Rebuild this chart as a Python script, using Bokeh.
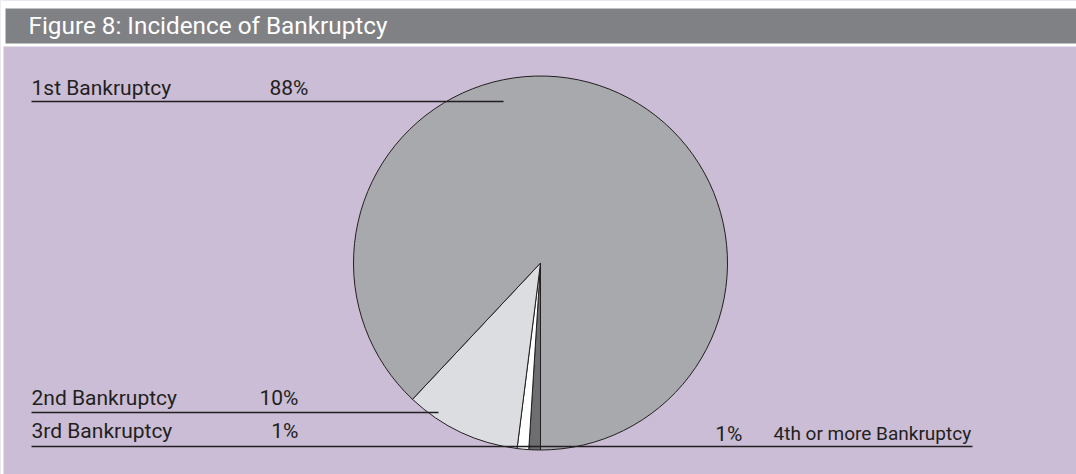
import math
from bokeh.plotting import figure
from bokeh.models import Range1d, ColumnDataSource
from bokeh.core.properties import value
from bokeh.embed import file_html
from bokeh.resources import INLINE

# ---- data ----
title = "Figure 8: Incidence of Bankruptcy"
categories = ["1st Bankruptcy", "2nd Bankruptcy", "3rd Bankruptcy", "4th or more Bankruptcy"]
shares = [88, 10, 1, 1]
colors = ["#a7a9ac", "#dcdde0", "#ffffff", "#6d6e71"]

W, H = 1076, 474
TSHIFT = 8  # compensation for baseline rendering


def sx(x):
    return x


def sy(y):
    return H - y


def ty(y):
    return H - (y - TSHIFT)


p = figure(width=W, height=H, output_backend="svg", toolbar_location=None,
           x_range=Range1d(0, W), y_range=Range1d(0, H), min_border=0)
p.axis.visible = False
p.grid.visible = False
p.outline_line_color = None
p.background_fill_color = "#cbbdd6"
p.border_fill_color = "#ffffff"

# white margins top/left, header bar
p.quad(left=[0], right=[W], top=[sy(0)], bottom=[sy(46)], fill_color="#ffffff", line_color=None)
p.quad(left=[0], right=[sx(3)], top=[sy(0)], bottom=[0], fill_color="#ffffff", line_color=None)
p.quad(left=[sx(5)], right=[W], top=[sy(8)], bottom=[sy(43)], fill_color="#808184", line_color=None)
p.text(x=[sx(28)], y=[ty(33)], text=[title], text_color="#ffffff",
       text_font=value("Roboto"), text_font_size="24.3px", text_baseline="alphabetic")

# pie: start at 6 o'clock, clockwise on screen: 4th, 3rd, 2nd, 1st
cx, cy, r = sx(540), sy(262.5), 187
order = [3, 2, 1, 0]
starts, ends, cols = [], [], []
ang = -math.pi / 2
for i in order:
    nxt = ang - shares[i] / sum(shares) * 2 * math.pi
    starts.append(nxt)
    ends.append(ang)
    cols.append(colors[i])
    ang = nxt
src = ColumnDataSource(dict(x=[cx] * 4, y=[cy] * 4, s=starts, e=ends, c=cols))
p.wedge(x="x", y="y", radius=r, start_angle="s", end_angle="e", fill_color="c",
        line_color="#231f20", line_width=1, source=src)

# leader lines and labels
ink = "#231f20"
lines = [((31, 503), 101), ((31, 438), 412), ((31, 530), 446), ((528, 972), 446)]
for (x0, x1), y in lines:
    p.line(x=[sx(x0), sx(x1)], y=[sy(y), sy(y)], line_color=ink, line_width=1.5)

fs = "21px"
font = value("Roboto")
# left labels (1st, 2nd, 3rd)
name_pos = [(31, 95), (31, 405), (31, 438)]
pct_pos = [(308, 95), (298, 405), (298, 438)]
for i in range(3):
    p.text(x=[sx(name_pos[i][0])], y=[ty(name_pos[i][1])], text=[categories[i]], text_color=ink,
           text_font=font, text_font_size=fs, text_baseline="alphabetic", text_align="left")
    p.text(x=[sx(pct_pos[i][0])], y=[ty(pct_pos[i][1])], text=[f"{shares[i]}%"], text_color=ink,
           text_font=font, text_font_size=fs, text_baseline="alphabetic", text_align="right")
# right label (4th)
p.text(x=[sx(742)], y=[ty(441)], text=[f"{shares[3]}%"], text_color=ink,
       text_font=font, text_font_size=fs, text_baseline="alphabetic", text_align="right")
p.text(x=[sx(773)], y=[ty(441)], text=[categories[3]], text_color=ink,
       text_font=font, text_font_size="19px", text_baseline="alphabetic", text_align="left")

open("out.html", "w").write(file_html(p, INLINE))
